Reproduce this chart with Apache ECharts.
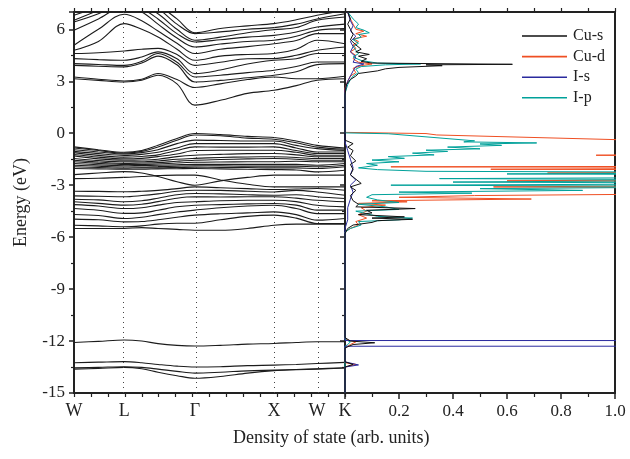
<!DOCTYPE html>
<html>
<head>
<meta charset="utf-8">
<script src="https://cdn.jsdelivr.net/npm/echarts@6/dist/echarts.min.js"></script>
<style>
html,body{margin:0;padding:0;background:#fff;}
#chart{width:630px;height:459px;}
</style>
</head>
<body>
<div id="chart"></div>
<script>
// ---- k-path (fractional position along W-L-Γ-X-W-K) ----
const kPath = [0, 0.09, 0.185, 0.25, 0.31, 0.38, 0.446, 0.54, 0.64, 0.738, 0.82, 0.897, 1.0];
const kLabelPos = [0, 0.185, 0.446, 0.738, 0.897, 1.0];
const kLabelNames = ['W', 'L', 'Γ', 'X', 'W', 'K'];

// ---- conduction bands (eV) at kPath points ----
const condBands = [
  [3.15, 3.05, 2.96, 3.06, 3.35, 2.85, 1.62, 1.90, 2.30, 2.48, 2.75, 3.06, 3.15],
  [3.25, 3.12, 3.02, 3.12, 3.45, 3.10, 2.64, 2.85, 3.10, 3.25, 3.15, 3.15, 3.29],
  [3.92, 3.87, 3.83, 4.05, 4.45, 3.95, 2.96, 3.05, 3.20, 3.35, 3.55, 3.96, 4.02],
  [4.02, 3.97, 3.92, 4.15, 4.60, 4.10, 3.25, 3.35, 3.50, 3.64, 3.85, 4.11, 4.11],
  [4.31, 4.25, 4.21, 4.40, 4.70, 4.30, 3.44, 3.65, 4.00, 4.21, 4.30, 4.60, 4.60],
  [4.60, 4.65, 4.75, 4.85, 4.90, 4.55, 3.92, 4.10, 4.30, 4.31, 4.50, 4.79, 4.98],
  [4.79, 5.30, 6.33, 6.00, 5.56, 4.85, 4.21, 4.45, 4.55, 4.60, 4.85, 5.37, 5.17],
  [5.08, 6.00, 6.87, 6.50, 5.90, 5.20, 4.60, 4.85, 5.00, 5.17, 5.35, 5.75, 5.75],
  [5.94, 6.60, 7.30, 7.00, 6.30, 5.50, 4.98, 5.15, 5.30, 5.37, 5.60, 5.94, 6.04],
  [6.42, 6.90, 7.50, 7.20, 6.60, 5.75, 5.27, 5.40, 5.55, 5.65, 5.85, 6.13, 6.30],
  [6.52, 7.10, 7.70, 7.40, 6.90, 6.00, 5.37, 5.55, 5.80, 5.98, 6.10, 6.52, 6.71],
  [6.81, 7.30, 7.90, 7.60, 7.20, 6.30, 5.75, 5.85, 6.00, 6.10, 6.30, 6.60, 6.90],
  [7.20, 7.50, 8.10, 7.80, 7.40, 6.60, 5.80, 6.05, 6.20, 6.33, 6.55, 6.81, 7.10]
];

// ---- valence bands (eV) ----
const valBands = [
  [-0.79, -0.95, -1.10, -1.00, -0.70, -0.30, -0.02, -0.08, -0.18, -0.25, -0.45, -0.70, -0.85],
  [-0.85, -1.00, -1.15, -1.05, -0.80, -0.40, -0.10, -0.15, -0.28, -0.35, -0.55, -0.80, -0.92],
  [-0.95, -1.08, -1.20, -1.12, -0.95, -0.60, -0.40, -0.42, -0.45, -0.45, -0.70, -0.89, -1.00],
  [-1.05, -1.18, -1.28, -1.22, -1.10, -0.85, -0.60, -0.60, -0.60, -0.60, -0.85, -1.08, -1.08],
  [-1.12, -1.28, -1.38, -1.34, -1.25, -1.00, -0.79, -0.80, -0.80, -0.79, -1.00, -1.17, -1.17],
  [-1.23, -1.38, -1.48, -1.45, -1.35, -1.20, -1.00, -0.98, -0.98, -0.98, -1.10, -1.27, -1.27],
  [-1.31, -1.48, -1.56, -1.55, -1.50, -1.35, -1.27, -1.22, -1.18, -1.17, -1.25, -1.36, -1.36],
  [-1.46, -1.58, -1.65, -1.65, -1.60, -1.50, -1.45, -1.40, -1.37, -1.36, -1.40, -1.46, -1.46],
  [-1.56, -1.66, -1.74, -1.72, -1.70, -1.62, -1.56, -1.52, -1.48, -1.46, -1.50, -1.56, -1.56],
  [-1.65, -1.74, -1.81, -1.80, -1.78, -1.72, -1.68, -1.66, -1.65, -1.65, -1.62, -1.65, -1.65],
  [-1.75, -1.82, -1.88, -1.86, -1.85, -1.82, -1.80, -1.80, -1.80, -1.80, -1.80, -1.85, -1.75],
  [-1.85, -1.90, -1.95, -1.95, -1.93, -1.90, -1.88, -1.88, -1.90, -1.90, -1.90, -1.94, -1.85],
  [-1.94, -1.98, -2.02, -2.00, -2.00, -1.98, -1.96, -1.97, -1.98, -2.00, -2.00, -2.04, -1.94],
  [-2.04, -2.06, -2.08, -2.08, -2.06, -2.05, -2.04, -2.06, -2.08, -2.10, -2.12, -2.23, -2.14],
  [-2.39, -2.30, -2.22, -2.30, -2.50, -2.80, -3.00, -2.75, -2.55, -2.42, -2.42, -2.42, -2.42],
  [-2.62, -2.60, -2.55, -2.50, -2.45, -2.42, -2.42, -2.70, -2.95, -3.10, -3.10, -3.10, -3.10],
  [-3.35, -3.36, -3.38, -3.35, -3.30, -3.20, -3.10, -3.15, -3.20, -3.25, -3.22, -3.19, -3.29],
  [-3.62, -3.64, -3.67, -3.60, -3.50, -3.35, -3.29, -3.30, -3.35, -3.39, -3.30, -3.39, -3.58],
  [-3.81, -3.85, -3.96, -3.90, -3.75, -3.55, -3.48, -3.50, -3.55, -3.58, -3.55, -3.67, -3.77],
  [-3.96, -4.05, -4.15, -4.10, -3.95, -3.75, -3.67, -3.68, -3.67, -3.67, -3.75, -3.87, -3.96],
  [-4.12, -4.20, -4.35, -4.30, -4.15, -4.00, -3.96, -3.90, -3.87, -3.87, -3.95, -4.16, -4.25],
  [-4.35, -4.45, -4.63, -4.60, -4.45, -4.25, -4.16, -4.12, -4.08, -4.06, -4.15, -4.44, -4.44],
  [-4.69, -4.75, -4.92, -4.85, -4.70, -4.55, -4.44, -4.30, -4.20, -4.16, -4.35, -4.64, -4.64],
  [-4.96, -5.00, -5.12, -5.10, -5.00, -4.85, -4.73, -4.65, -4.60, -4.54, -4.70, -5.02, -4.92],
  [-5.31, -5.35, -5.40, -5.35, -5.25, -5.20, -5.20, -5.00, -4.80, -4.73, -4.90, -5.21, -5.21],
  [-5.50, -5.50, -5.50, -5.45, -5.50, -5.55, -5.60, -5.60, -5.50, -5.31, -5.25, -5.25, -5.25]
];

// ---- semi-core bands (eV) ----
const coreBands = [
  [-12.08, -12.02, -11.94, -12.00, -12.15, -12.25, -12.29, -12.25, -12.18, -12.14, -12.08, -12.04, -12.04],
  [-13.25, -13.22, -13.19, -13.25, -13.35, -13.45, -13.50, -13.48, -13.42, -13.39, -13.35, -13.30, -13.23],
  [-13.55, -13.52, -13.48, -13.52, -13.62, -13.75, -13.85, -13.80, -13.72, -13.68, -13.64, -13.60, -13.54],
  [-13.62, -13.58, -13.52, -13.60, -13.80, -14.00, -14.15, -14.05, -13.85, -13.71, -13.66, -13.62, -13.56]
];

// ---- partial DOS: [energy (eV), DOS (arb. units)] ----
const dosCuS = [[7.0,0.01],[6.6,0.02],[6.3,0.01],[6.0,0.02],[5.7,0.03],[5.4,0.02],[5.1,0.04],[4.85,0.06],[4.7,0.04],[4.55,0.09],[4.45,0.05],[4.3,0.08],[4.15,0.06],[4.05,0.1],[3.98,0.62],[3.95,0.3],[3.9,0.36],[3.8,0.2],[3.72,0.15],[3.6,0.12],[3.45,0.05],[3.3,0.04],[3.1,0.02],[2.8,0.005],[2.2,0],[-0.4,0],[-0.6,0.03],[-0.8,0.01],[-1.0,0.03],[-1.3,0.02],[-1.6,0.04],[-1.8,0.02],[-2.1,0.03],[-2.4,0.02],[-2.9,0.06],[-3.1,0.02],[-3.3,0.04],[-3.6,0.02],[-3.9,0.03],[-4.1,0.05],[-4.25,0.04],[-4.35,0.26],[-4.45,0.08],[-4.6,0.1],[-4.7,0.05],[-4.83,0.22],[-4.9,0.1],[-4.97,0.25],[-5.05,0.12],[-5.15,0.1],[-5.3,0.03],[-5.5,0.01],[-5.8,0],[-11.8,0],[-12.0,0.02],[-12.1,0.11],[-12.2,0.03],[-12.4,0],[-13.2,0],[-13.35,0.03],[-13.5,0],[-15,0]];
const dosCuD = [[7.0,0.01],[6.6,0.02],[6.3,0.03],[6.0,0.04],[5.9,0.07],[5.75,0.04],[5.6,0.08],[5.45,0.03],[5.3,0.05],[5.1,0.03],[4.9,0.04],[4.7,0.02],[4.5,0.04],[4.3,0.03],[4.1,0.05],[4.0,0.1],[3.9,0.06],[3.75,0.03],[3.5,0.04],[3.3,0.02],[3.0,0.01],[2.6,0],[0.05,0],[-0.02,0.3],[-0.1,0.34],[-0.45,1.2],[-0.8,1.8],[-1.2,1.5],[-1.27,0.93],[-1.32,1.5],[-1.6,2.5],[-1.9,2.0],[-1.94,0.17],[-1.98,2.2],[-2.08,0.54],[-2.14,2.4],[-2.3,0.75],[-2.35,2.2],[-2.6,2.0],[-2.75,0.6],[-2.8,2.0],[-3.0,1.6],[-3.1,0.55],[-3.15,1.5],[-3.5,1.3],[-3.6,0.48],[-3.7,0.2],[-3.8,0.69],[-3.9,0.1],[-3.96,0.23],[-4.05,0.05],[-4.15,0.15],[-4.3,0.06],[-4.5,0.08],[-4.7,0.05],[-4.9,0.08],[-5.1,0.04],[-5.3,0.05],[-5.5,0.02],[-5.7,0],[-11.9,0],[-12.05,0.04],[-12.2,0.02],[-12.4,0],[-13.25,0],[-13.35,0.04],[-13.5,0],[-15,0]];
const dosIS = [[7.0,0.01],[6.5,0.02],[6.2,0.03],[5.9,0.02],[5.6,0.04],[5.3,0.02],[5.0,0.03],[4.7,0.02],[4.4,0.04],[4.1,0.03],[4.0,0.07],[3.85,0.04],[3.6,0.03],[3.3,0.02],[3.0,0.01],[2.5,0],[-0.5,0],[-1.0,0.01],[-1.5,0.02],[-2.0,0.03],[-2.4,0.02],[-2.7,0.04],[-3.0,0.02],[-3.4,0.03],[-3.8,0.02],[-4.3,0.01],[-5.0,0.01],[-5.5,0],[-11.8,0],[-11.97,0],[-11.98,5],[-12.29,5],[-12.30,0],[-13.2,0],[-13.38,0.05],[-13.5,0],[-15,0]];
const dosIP = [[7.0,0.01],[6.6,0.03],[6.3,0.05],[6.1,0.04],[5.95,0.07],[5.8,0.09],[5.7,0.05],[5.55,0.06],[5.4,0.03],[5.2,0.05],[5.0,0.03],[4.8,0.04],[4.6,0.05],[4.4,0.03],[4.2,0.06],[4.05,0.12],[4.0,0.28],[3.95,0.15],[3.85,0.06],[3.7,0.04],[3.5,0.05],[3.3,0.03],[3.1,0.02],[2.8,0.01],[2.3,0],[0.02,0],[-0.03,0.16],[-0.44,0.48],[-0.5,0.44],[-0.56,0.71],[-0.62,0.5],[-0.7,0.58],[-0.8,0.38],[-0.9,0.5],[-0.98,0.3],[-1.05,0.38],[-1.15,0.25],[-1.25,0.33],[-1.35,0.16],[-1.45,0.22],[-1.55,0.1],[-1.65,0.2],[-1.75,0.08],[-1.85,0.12],[-2.0,0.05],[-2.1,0.12],[-2.2,0.3],[-2.27,1.8],[-2.35,0.6],[-2.42,2.0],[-2.55,1.5],[-2.62,0.35],[-2.7,1.6],[-2.82,0.4],[-2.9,1.8],[-3.0,0.17],[-3.08,1.6],[-3.2,0.5],[-3.3,0.88],[-3.4,0.2],[-3.46,0.47],[-3.55,0.1],[-3.7,0.08],[-3.85,0.12],[-4.0,0.2],[-4.1,0.05],[-4.25,0.15],[-4.4,0.2],[-4.5,0.04],[-4.65,0.08],[-4.8,0.12],[-4.9,0.25],[-5.0,0.2],[-5.1,0.05],[-5.3,0.06],[-5.5,0.02],[-5.7,0],[-11.9,0],[-12.05,0.02],[-12.2,0.01],[-12.3,0],[-15,0]];

const dosSeries = [
  {name: 'Cu-d', data: dosCuD, color: '#ef4f23'},
  {name: 'I-p', data: dosIP, color: '#00a19a'},
  {name: 'I-s', data: dosIS, color: '#2a2a9e'},
  {name: 'Cu-s', data: dosCuS, color: '#111111'}
];
const legendNames = ['Cu-s', 'Cu-d', 'I-s', 'I-p'];

const FONT = '"Liberation Serif", "DejaVu Serif", serif';
const INK = '#222';

const chart = echarts.init(document.getElementById('chart'), null, {renderer: 'canvas'});

const series = [];
const allBands = condBands.concat(valBands, coreBands);
allBands.forEach((b, idx) => {
  const s = {
    type: 'line', name: 'band', xAxisIndex: 0, yAxisIndex: 0,
    data: kPath.map((k, i) => [k, b[i]]),
    smooth: 0.35, symbol: 'none', silent: true, animation: false,
    lineStyle: {color: '#1c1c1c', width: 1.1}, z: 3
  };
  if (idx === 0) {
    s.markLine = {
      silent: true, symbol: ['none', 'none'], animation: false,
      label: {show: false},
      lineStyle: {type: [1, 4], color: '#444', width: 1},
      data: kLabelPos.slice(1, 5).map(v => ({xAxis: v}))
    };
  }
  series.push(s);
});
dosSeries.forEach(d => {
  series.push({
    type: 'line', name: d.name, xAxisIndex: 3, yAxisIndex: 1,
    data: d.data.map(p => [p[1], p[0]]),
    symbol: 'none', silent: true, animation: false, clip: true,
    color: d.color,
    lineStyle: {color: d.color, width: 1}, z: 3
  });
});

const axisLine = {show: true, onZero: false, lineStyle: {color: INK, width: 2}};
const labelFont = {fontFamily: FONT, fontSize: 17, color: INK};

const option = {
  backgroundColor: '#fff',
  animation: false,
  grid: [
    {left: 74, right: 285, top: 12, bottom: 66},
    {left: 345, right: 15, top: 12, bottom: 66}
  ],
  legend: {
    data: legendNames, orient: 'vertical', left: 517, top: 23,
    icon: 'rect', itemWidth: 45, itemHeight: 1.6, itemGap: 4.6,
    textStyle: {fontFamily: FONT, fontSize: 16, color: INK, padding: [0, 0, 0, 1]},
    selectedMode: false
  },
  xAxis: [
    {gridIndex: 0, type: 'value', position: 'bottom', min: 0, max: 1,
     axisLine: axisLine, axisTick: {show: false}, splitLine: {show: false},
     axisLabel: Object.assign({customValues: kLabelPos, margin: 9, fontSize: 18,
       formatter: (v, i) => kLabelNames[kLabelPos.indexOf(v)] !== undefined ? kLabelNames[kLabelPos.indexOf(v)] : ''}, {fontFamily: FONT, color: INK})},
    {gridIndex: 0, type: 'value', position: 'bottom', min: 0, max: 1, interval: 0.0625,
     axisLine: {show: false, onZero: false}, axisLabel: {show: false}, splitLine: {show: false},
     axisTick: {show: true, inside: false, length: 4, lineStyle: {color: INK, width: 1.2}}},
    {gridIndex: 0, type: 'value', position: 'top', min: 0, max: 1, interval: 0.0625,
     axisLine: axisLine, axisLabel: {show: false}, splitLine: {show: false},
     axisTick: {show: true, inside: false, length: 4, lineStyle: {color: INK, width: 1.2}}},
    {gridIndex: 1, type: 'value', position: 'bottom', min: 0, max: 1, interval: 0.2,
     axisLine: axisLine, splitLine: {show: false},
     axisTick: {show: true, inside: false, length: 6, lineStyle: {color: INK, width: 1.5}},
     minorTick: {show: true, splitNumber: 2, length: 4, lineStyle: {color: INK, width: 1.2}},
     axisLabel: Object.assign({showMinLabel: false, margin: 10, formatter: v => v.toFixed(1)}, labelFont)},
    {gridIndex: 1, type: 'value', position: 'top', min: 0, max: 1, interval: 0.1,
     axisLine: axisLine, axisLabel: {show: false}, splitLine: {show: false},
     axisTick: {show: true, inside: false, length: 4, lineStyle: {color: INK, width: 1.2}}}
  ],
  yAxis: [
    {gridIndex: 0, type: 'value', position: 'left', min: -15, max: 7, interval: 3,
     name: 'Energy (eV)', nameLocation: 'middle', nameGap: 44, nameRotate: 90,
     nameTextStyle: {fontFamily: FONT, fontSize: 18, color: INK},
     axisLine: axisLine, splitLine: {show: false},
     axisTick: {show: true, inside: false, length: 5, lineStyle: {color: INK, width: 1.5}},
     minorTick: {show: true, splitNumber: 2, length: 3, lineStyle: {color: INK, width: 1.2}},
     axisLabel: Object.assign({showMaxLabel: false, margin: 9}, labelFont)},
    {gridIndex: 1, type: 'value', position: 'left', min: -15, max: 7, interval: 3,
     axisLine: axisLine, splitLine: {show: false}, axisLabel: {show: false},
     axisTick: {show: true, inside: false, length: 5, lineStyle: {color: INK, width: 1.5}},
     minorTick: {show: true, splitNumber: 2, length: 3, lineStyle: {color: INK, width: 1.2}}},
    {gridIndex: 1, type: 'value', position: 'right', min: -15, max: 7,
     axisLine: axisLine, splitLine: {show: false}, axisLabel: {show: false}, axisTick: {show: false}}
  ],
  graphic: [
    {type: 'text', left: 233, top: 429, silent: true,
     style: {text: 'Density of state (arb. units)', font: '18px ' + FONT, fill: INK}}
  ],
  series: series
};
chart.setOption(option);
</script>
</body>
</html>
